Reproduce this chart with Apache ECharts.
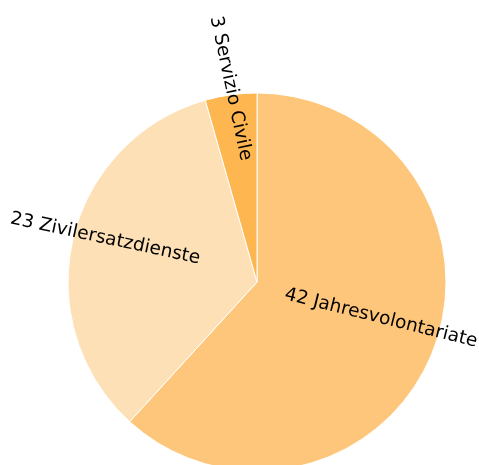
<!DOCTYPE html>
<html>
<head>
<meta charset="utf-8">
<script src="https://cdn.jsdelivr.net/npm/echarts@6/dist/echarts.min.js"></script>
<style>
  html, body { margin: 0; padding: 0; background: #fff; }
  #chart { width: 479px; height: 465px; }
</style>
</head>
<body>
<div id="chart"></div>
<script>
// Daten
const categories = ['Jahresvolontariate', 'Zivilersatzdienste', 'Servizio Civile'];
const counts = [42, 23, 3];

// Farben je Segment
const colors = ['#fec67b', '#fde0b5', '#fdb650'];
// Feinjustierung der Beschriftungen: [dx, dy, Drehung] (dx/dy in Bildschirmrichtung)
const labelTweaks = [[33, 1, -14], [-57, -21, -12], [-13, -97, -78]];

const chart = echarts.init(document.getElementById('chart'));

const option = {
  animation: false,
  series: [{
    type: 'pie',
    center: [257, 282],
    radius: 189,
    startAngle: 90,
    clockwise: true,
    avoidLabelOverlap: false,
    emphasis: { disabled: true },
    itemStyle: { borderColor: '#fff', borderWidth: 1 },
    label: {
      show: true,
      position: 'inside',
      color: '#000',
      fontFamily: 'DejaVu Sans',
      fontSize: 18.5,
      formatter: p => p.value + ' ' + p.name
    },
    labelLine: { show: false },
    labelLayout: p => {
      const [sx, sy, deg] = labelTweaks[p.dataIndex];
      // dx/dy wirken im gedrehten Koordinatensystem des Labels -> zurückdrehen
      const a = deg * Math.PI / 180;
      const c = Math.cos(a), s = Math.sin(a);
      return { dx: sx * c - sy * s, dy: sx * s + sy * c, rotate: deg };
    },
    data: categories.map((name, i) => ({
      name,
      value: counts[i],
      itemStyle: { color: colors[i] }
    }))
  }]
};

chart.setOption(option);
</script>
</body>
</html>
